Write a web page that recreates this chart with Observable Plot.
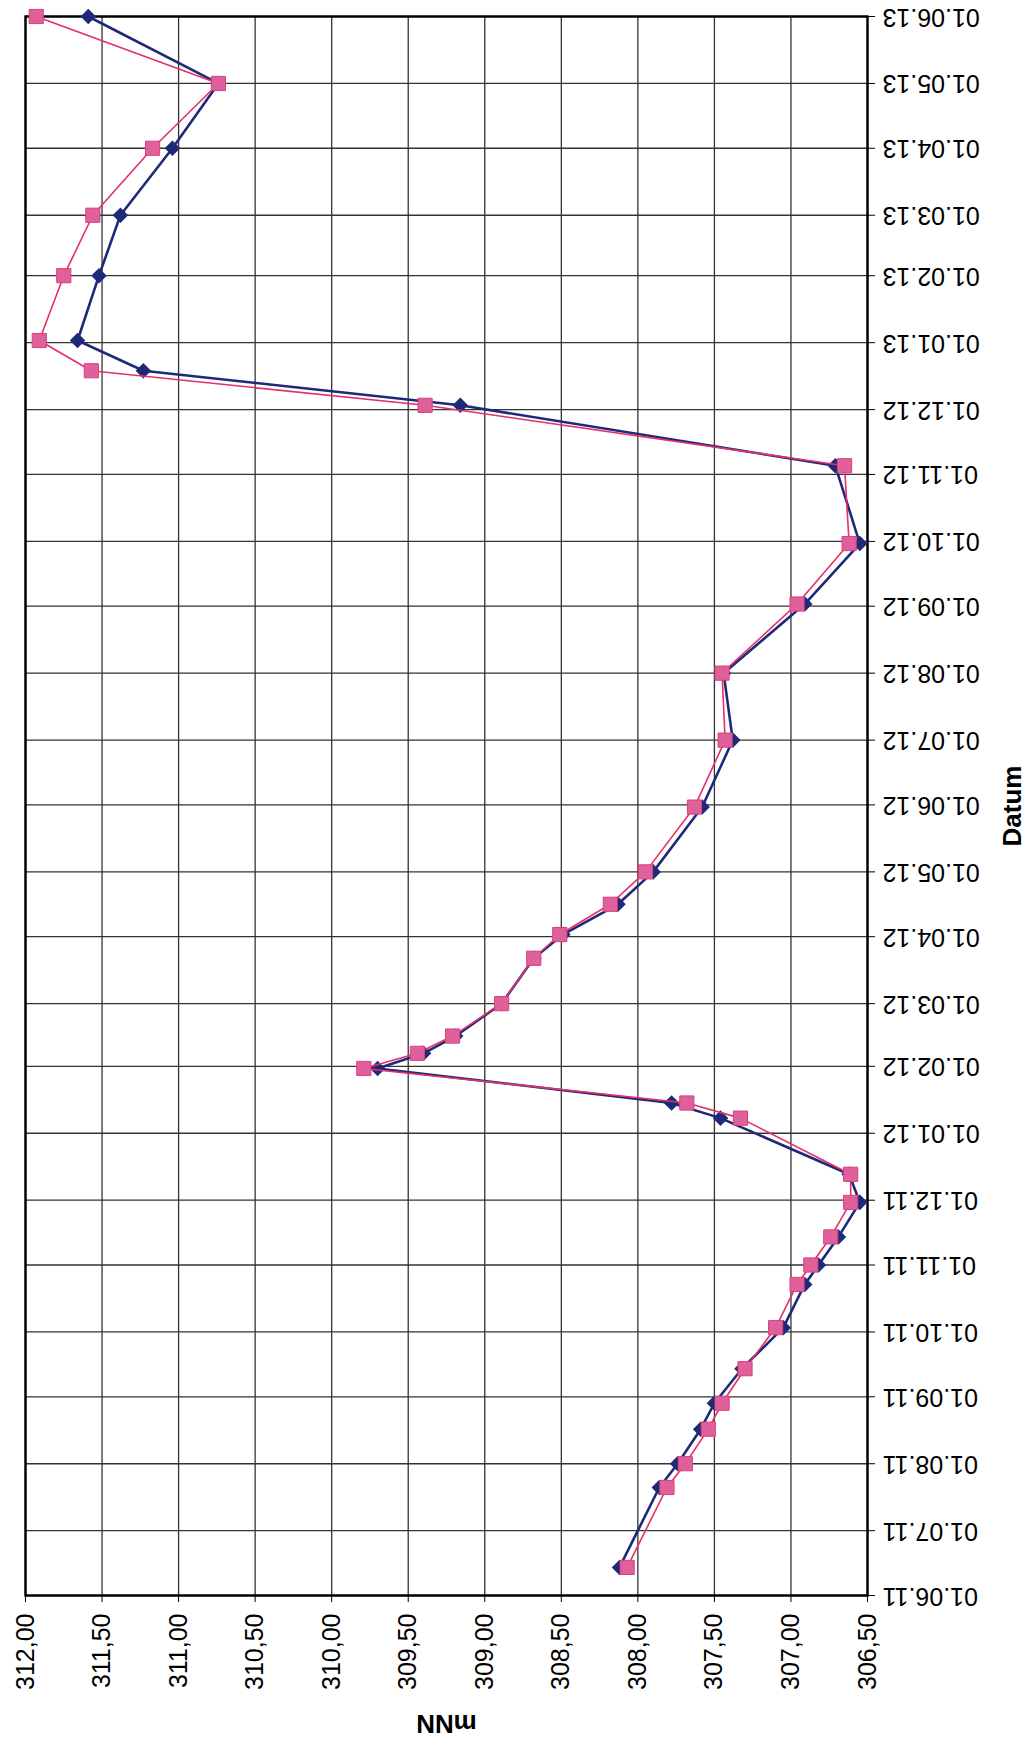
<!DOCTYPE html>
<html>
<head>
<meta charset="utf-8">
<script src="https://cdn.jsdelivr.net/npm/d3@7"></script>
<script src="https://cdn.jsdelivr.net/npm/@observablehq/plot@0.6"></script>
<style>
  html, body { margin: 0; padding: 0; background: #fff; }
  #chart svg { display: block; }
</style>
</head>
<body>
<div id="chart"></div>
<script>
// Measurement dates
const dates = [
  "2011-06-14", "2011-07-21", "2011-08-01", "2011-08-17", "2011-08-29", "2011-09-14",
  "2011-10-03", "2011-10-23", "2011-11-01", "2011-11-14", "2011-11-30", "2011-12-13",
  "2012-01-08", "2012-01-15", "2012-01-31", "2012-02-07", "2012-02-15", "2012-03-01",
  "2012-03-22", "2012-04-02", "2012-04-16", "2012-05-01", "2012-05-31", "2012-07-01",
  "2012-08-01", "2012-09-02", "2012-09-30", "2012-11-05", "2012-12-03", "2012-12-19",
  "2013-01-02", "2013-02-01", "2013-03-01", "2013-04-01", "2013-05-01", "2013-06-01"
];
// Series 1 (dark blue, diamonds) in mNN
const blueSeries = [
  308.12, 307.86, 307.74, 307.59, 307.50, 307.32,
  307.05, 306.91, 306.82, 306.69, 306.55, 306.62,
  307.46, 307.78, 309.70, 309.40, 309.19, 308.89,
  308.68, 308.49, 308.13, 307.90, 307.58, 307.38,
  307.44, 306.91, 306.55, 306.71, 309.16, 311.23,
  311.66, 311.52, 311.38, 311.04, 310.74, 311.59
];
// Series 2 (pink, squares) in mNN
const pinkSeries = [
  308.07, 307.81, 307.69, 307.54, 307.45, 307.30,
  307.10, 306.96, 306.87, 306.74, 306.61, 306.61,
  307.33, 307.68, 309.79, 309.44, 309.21, 308.89,
  308.68, 308.51, 308.18, 307.95, 307.63, 307.43,
  307.45, 306.96, 306.62, 306.65, 309.39, 311.57,
  311.91, 311.75, 311.56, 311.17, 310.74, 311.93
];
// Axis ticks
const valueTicks = [312, 311.5, 311, 310.5, 310, 309.5, 309, 308.5, 308, 307.5, 307, 306.5];
const dateTicks = [
  "2011-06-01", "2011-07-01", "2011-08-01", "2011-09-01", "2011-10-01", "2011-11-01",
  "2011-12-01", "2012-01-01", "2012-02-01", "2012-03-01", "2012-04-01", "2012-05-01",
  "2012-06-01", "2012-07-01", "2012-08-01", "2012-09-01", "2012-10-01", "2012-11-01",
  "2012-12-01", "2013-01-01", "2013-02-01", "2013-03-01", "2013-04-01", "2013-05-01",
  "2013-06-01"
];
const xTitle = "mNN";
const yTitle = "Datum";

const rows = dates.map((d, i) => ({ date: new Date(d), blue: blueSeries[i], pink: pinkSeries[i] }));
const dateTickDates = dateTicks.map(d => new Date(d));
const fmtVal = v => v.toFixed(2).replace(".", ",");
const fmtDate = d3.utcFormat("%d.%m.%y");

const font = "'Liberation Sans', Arial, sans-serif";
const blueColor = "#1e2a78";
const pinkLine = "#e3306c";
const pinkFill = "#e0609c";

const chart = Plot.plot({
  width: 1028,
  height: 1740,
  marginLeft: 25,
  marginRight: 161,
  marginTop: 16,
  marginBottom: 145,
  style: { fontFamily: font, background: "#fff", color: "#000" },
  x: { domain: [valueTicks[0], valueTicks[valueTicks.length - 1]] },
  y: { type: "utc", domain: [dateTickDates[0], dateTickDates[dateTickDates.length - 1]] },
  marks: [
    Plot.gridX({ ticks: valueTicks, stroke: "#333", strokeOpacity: 1, strokeWidth: 1.3 }),
    Plot.gridY({ ticks: dateTickDates, stroke: "#333", strokeOpacity: 1, strokeWidth: 1.3 }),
    Plot.frame({ stroke: "#000", strokeWidth: 2.4 }),
    Plot.axisX({
      anchor: "bottom", ticks: valueTicks, tickFormat: fmtVal, tickRotate: -90,
      textAnchor: "end", lineAnchor: "middle", tickSize: 7, tickPadding: 11,
      fontSize: 25, label: null, stroke: "#000", fill: "#000"
    }),
    Plot.axisY({
      anchor: "right", ticks: dateTickDates, tickFormat: fmtDate, tickRotate: 180,
      textAnchor: "end", lineAnchor: "middle", tickSize: 7, tickPadding: 8,
      fontSize: 25, label: null, stroke: "#000", fill: "#000"
    }),
    Plot.line(rows, { x: "blue", y: "date", stroke: blueColor, strokeWidth: 2.6 }),
    Plot.dot(rows, { x: "blue", y: "date", symbol: "diamond2", r: 7, fill: blueColor, stroke: "none" }),
    Plot.line(rows, { x: "pink", y: "date", stroke: pinkLine, strokeWidth: 1.6 }),
    Plot.dot(rows, { x: "pink", y: "date", symbol: "square", r: 8, fill: pinkFill, stroke: "#d8407e", strokeWidth: 1 }),
    Plot.text([xTitle], {
      frameAnchor: "bottom", text: d => d, dy: 128, rotate: 180,
      textAnchor: "middle", lineAnchor: "middle", fontSize: 26, fontWeight: "bold", fill: "#000"
    }),
    Plot.text([yTitle], {
      frameAnchor: "right", text: d => d, dx: 145, rotate: -90,
      textAnchor: "middle", lineAnchor: "middle", fontSize: 26, fontWeight: "bold",
      fontFamily: "'Liberation Sans Narrow', 'Liberation Sans', Arial, sans-serif", fill: "#000"
    })
  ]
});
document.getElementById("chart").appendChild(chart);
</script>
</body>
</html>
